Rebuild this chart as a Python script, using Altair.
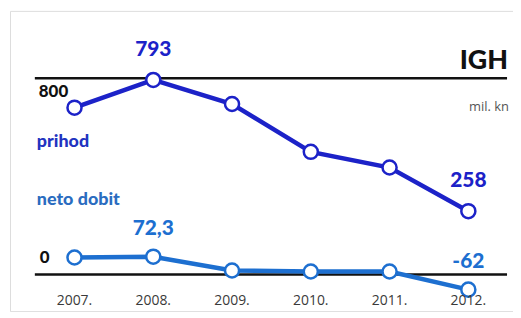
import altair as alt
import pandas as pd

years = [2007, 2008, 2009, 2010, 2011, 2012]
year_labels = ["2007.", "2008.", "2009.", "2010.", "2011.", "2012."]
revenue = [680, 793, 695, 500, 436, 258]
profit = [69, 72.3, 16, 12, 12, -62]

rev_label_years = [2008, 2012]
rev_label_vals = [793, 258]
rev_label_text = ["793", "258"]
prof_label_years = [2008, 2012]
prof_label_vals = [72.3, -62]
prof_label_text = ["72,3", "-62"]

REV_C = "#1c22c8"
PROF_C = "#1d6fd0"

df_rev = pd.DataFrame({"year": years, "value": revenue})
df_prof = pd.DataFrame({"year": years, "value": profit})
df_years = pd.DataFrame({"year": years, "label": year_labels})
df_rl = pd.DataFrame({"year": rev_label_years, "value": rev_label_vals, "text": rev_label_text})
df_pl = pd.DataFrame({"year": prof_label_years, "value": prof_label_vals, "text": prof_label_text})

xs = alt.Scale(domain=[2006.181, 2012.567], nice=False, zero=False)
ys = alt.Scale(domain=[-149.5, 1074.7], nice=False, zero=False)
X = alt.X("year:Q", scale=xs, axis=None)
Y = alt.Y("value:Q", scale=ys, axis=None)

FONT = "Lato"
W = 900

rules = alt.Chart(pd.DataFrame({"value": [800, 0]})).mark_rule(
    color="#111111", strokeWidth=2.5
).encode(y=Y, x=alt.value(25), x2=alt.value(500))

rev_line = alt.Chart(df_rev).mark_line(color=REV_C, strokeWidth=4.5).encode(x=X, y=Y)
rev_pts = alt.Chart(df_rev).mark_point(
    filled=True, fill="white", stroke=REV_C, strokeWidth=2.5, size=200, opacity=1
).encode(x=X, y=Y)
prof_line = alt.Chart(df_prof).mark_line(color=PROF_C, strokeWidth=4.5).encode(x=X, y=Y)
prof_pts = alt.Chart(df_prof).mark_point(
    filled=True, fill="white", stroke=PROF_C, strokeWidth=2.5, size=200, opacity=1
).encode(x=X, y=Y)

rev_txt = alt.Chart(df_rl).mark_text(
    font=FONT, fontWeight=W, fontSize=21, color=REV_C, dy=-30, baseline="middle"
).encode(x=X, y=Y, text="text:N")
prof_txt = alt.Chart(df_pl).mark_text(
    font=FONT, fontWeight=W, fontSize=21, color=PROF_C, dy=-28, baseline="middle"
).encode(x=X, y=Y, text="text:N")

year_txt = alt.Chart(df_years).mark_text(
    font="Open Sans", fontSize=14, color="#3a3a3a", baseline="middle"
).encode(x=X, y=alt.value(292), text="label:N")

def fixed(txt, x, y, size, color, weight=W, align="left", font=FONT):
    return alt.Chart(pd.DataFrame({"t": [txt]})).mark_text(
        font=font, fontWeight=weight, fontSize=size, color=color,
        align=align, baseline="middle"
    ).encode(x=alt.value(x), y=alt.value(y), text="t:N")

labels = [
    fixed("800", 29, 82, 17, "#111111"),
    fixed("0", 30, 249, 17, "#111111"),
    fixed("prihod", 27, 132, 18, "#2233c0"),
    fixed("neto dobit", 27, 190, 18, "#2a6cc0"),
    fixed("IGH", 501, 50, 27, "#111111", align="right"),
    fixed("mil. kn", 502, 97, 13, "#555555", weight="normal", align="right",
          font="Open Sans"),
]

chart = alt.layer(
    rules, prof_line, rev_line, prof_pts, rev_pts, rev_txt, prof_txt, year_txt, *labels
).properties(
    width=506, height=302,
    autosize=alt.AutoSizeParams(type="none"),
    padding={"left": 2, "top": 2, "right": 0, "bottom": 0},
).configure_view(
    stroke="#cfcfcf", strokeWidth=1.5, cornerRadius=16
).configure(background="white")

chart.save("out.html", embed_options={"renderer": "svg", "actions": False})
